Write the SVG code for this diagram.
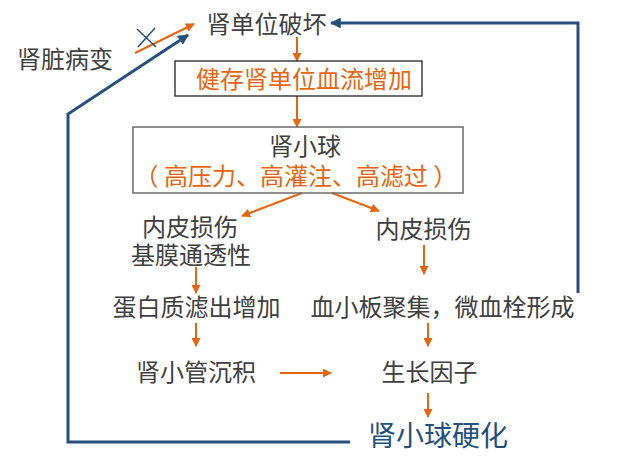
<svg xmlns="http://www.w3.org/2000/svg" width="625" height="461" viewBox="0 0 625 461">
<defs>
<style>
.t{font-family:"Noto Sans CJK SC","Noto Sans",sans-serif;font-size:24px;fill:#404040;text-anchor:middle}
.o{fill:#e8650e}
.b{fill:#24507f}
.ol{stroke:#e8650e;stroke-width:2;fill:none}
.bl{stroke:#24507f;stroke-width:3;fill:none}
</style>
<marker id="ao" viewBox="0 0 10 10" refX="9" refY="5" markerWidth="4.5" markerHeight="4.5" orient="auto" markerUnits="strokeWidth"><path d="M0,0 L10,5 L0,10 z" fill="#e8650e"/></marker>
<marker id="ab" viewBox="0 0 10 10" refX="9" refY="5" markerWidth="3.6" markerHeight="3.6" orient="auto" markerUnits="strokeWidth"><path d="M0,0 L10,5 L0,10 z" fill="#24507f"/></marker>
</defs>
<rect width="625" height="461" fill="#fff"/>
<g id="connectors">
<line class="ol" x1="135" y1="53" x2="194" y2="24" marker-end="url(#ao)"/>
<line x1="137" y1="29" x2="156" y2="47" stroke="#24507f" stroke-width="1.5"/>
<line x1="138" y1="47" x2="155" y2="28" stroke="#24507f" stroke-width="1.5"/>
<polyline class="bl" points="350,442 68,442 68,114 188,35" marker-end="url(#ab)"/>
<polyline class="bl" points="578,293 578,23 331,23" marker-end="url(#ab)"/>
<line class="ol" x1="297" y1="37" x2="297" y2="61" marker-end="url(#ao)"/>
<line class="ol" x1="297" y1="96" x2="297" y2="127" marker-end="url(#ao)"/>
<line class="ol" x1="302" y1="193" x2="242" y2="216" marker-end="url(#ao)"/>
<line class="ol" x1="332" y1="193" x2="379" y2="211" marker-end="url(#ao)"/>
<line class="ol" x1="196" y1="267" x2="196" y2="293" marker-end="url(#ao)"/>
<line class="ol" x1="424" y1="245" x2="424" y2="274" marker-end="url(#ao)"/>
<line class="ol" x1="196" y1="323" x2="196" y2="346" marker-end="url(#ao)"/>
<line class="ol" x1="428" y1="323" x2="428" y2="346" marker-end="url(#ao)"/>
<line class="ol" x1="280" y1="373" x2="331" y2="373" marker-end="url(#ao)"/>
<line class="ol" x1="428" y1="393" x2="428" y2="417" marker-end="url(#ao)"/>
</g>
<g id="n-damage"><text class="t" x="266.5" y="33">肾单位破坏</text></g>
<g id="n-kidney"><text class="t" x="65" y="68">肾脏病变</text></g>
<g id="n-flow"><rect x="175" y="61" width="247" height="35" fill="none" stroke="#222" stroke-width="1.3"/><text class="t o" x="304" y="87.5">健存肾单位血流增加</text></g>
<g id="n-glom"><rect x="133" y="127" width="330" height="66" fill="none" stroke="#6b6b6b" stroke-width="1.5"/><text class="t" x="305" y="155">肾小球</text><text class="t o" x="296" y="185" xml:space="preserve">（ 高压力、高灌注、高滤过 ）</text></g>
<g id="n-endo1"><text class="t" x="190" y="236">内皮损伤</text><text class="t" x="191" y="264">基膜通透性</text></g>
<g id="n-endo2"><text class="t" x="423.5" y="238">内皮损伤</text></g>
<g id="n-protein"><text class="t" x="196.5" y="316">蛋白质滤出增加</text></g>
<g id="n-platelet"><text class="t" x="442.5" y="316">血小板聚集，微血栓形成</text></g>
<g id="n-tubule"><text class="t" x="196" y="381">肾小管沉积</text></g>
<g id="n-growth"><text class="t" x="429.5" y="381">生长因子</text></g>
<g id="n-sclerosis"><text class="t b" x="438" y="446" style="font-size:28px">肾小球硬化</text></g>
</svg>
